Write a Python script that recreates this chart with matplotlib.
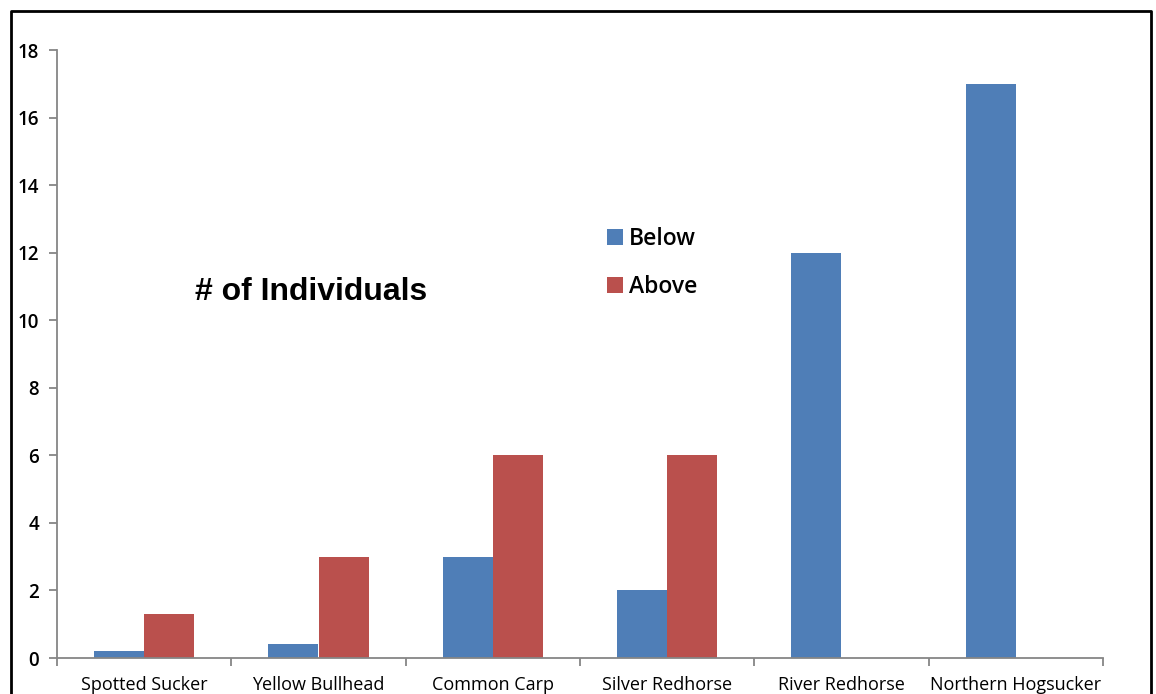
import matplotlib.pyplot as plt
import numpy as np
from matplotlib.lines import Line2D

species = ['Spotted Sucker', 'Yellow Bullhead', 'Common Carp',
           'Silver Redhorse', 'River Redhorse', 'Northern Hogsucker']
below = [0.2, 0.4, 3, 2, 12, 17]
above = [1.3, 3, 6, 6, 0, 0]

blue = '#4F7EB7'
red = '#BA504D'
grey = '#868686'

plt.rcParams['font.family'] = ['Open Sans', 'DejaVu Sans']

fig = plt.figure(figsize=(11.56, 6.94), dpi=100)
ax = fig.add_axes([57 / 1156, 1 - 658 / 694, (1103 - 57) / 1156, (658 - 50) / 694])

x = np.arange(len(species))
w = 0.287
ax.bar(x - w / 2, below, w, color=blue, label='Below')
ax.bar(x + w / 2, above, w, color=red, label='Above')

ax.set_xlim(-0.5, len(species) - 0.5)
ax.set_ylim(0, 18)
ax.set_yticks(range(0, 19, 2))
ax.set_xticks(x)
ax.set_xticklabels(species, fontsize=13)
ax.set_xticks(np.arange(-0.5, len(species), 1), minor=True)
ax.tick_params(axis='x', which='major', length=0, pad=13)
ax.tick_params(axis='x', which='minor', length=6, color=grey, width=1.3)
ax.tick_params(axis='y', length=6, color=grey, width=1.3, labelsize=13.5, pad=7)
for t in ax.get_yticklabels():
    t.set_fontweight('semibold')

for s in ['top', 'right']:
    ax.spines[s].set_visible(False)
for s in ['left', 'bottom']:
    ax.spines[s].set_color(grey)
    ax.spines[s].set_linewidth(1.3)

ax.legend(loc='upper left', bbox_to_anchor=(598 / 1156, 1 - 218 / 694),
          bbox_transform=fig.transFigure, frameon=False,
          prop={'size': 16.5, 'weight': 'semibold'},
          handlelength=0.7, handleheight=0.7, handletextpad=0.25,
          labelspacing=1.05, borderaxespad=0)

fig.text(195 / 1156, 1 - 292 / 694, '# of Individuals', fontsize=23,
         fontweight='bold', family='Liberation Sans', va='center')

# outer frame
fx = [11 / 1156, 11 / 1156, 1151 / 1156, 1151 / 1156]
fy = [-0.1, 1 - 11 / 694, 1 - 11 / 694, -0.1]
fig.add_artist(Line2D(fx, fy, color='black', lw=2, transform=fig.transFigure))

fig.savefig('out.png', dpi=100)
